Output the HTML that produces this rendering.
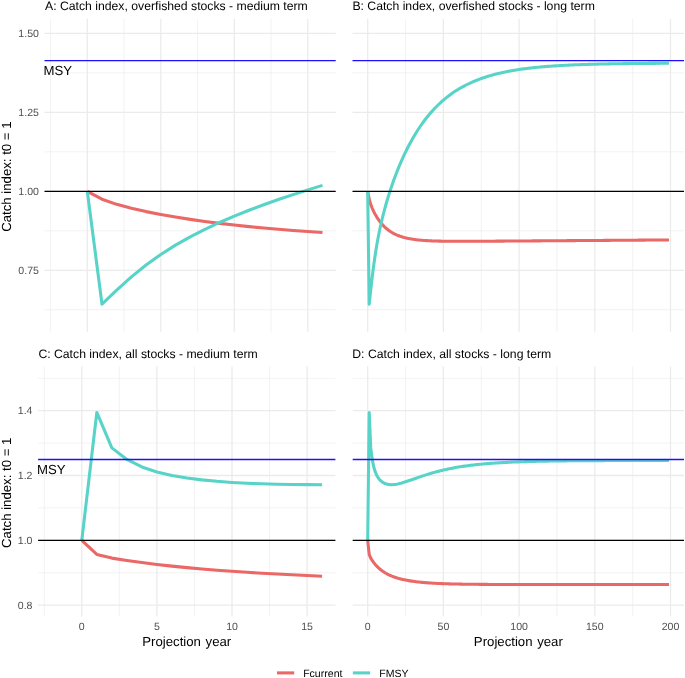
<!DOCTYPE html>
<html><head><meta charset="utf-8"><style>
html,body{margin:0;padding:0;background:#fff;}
body{width:685px;height:678px;overflow:hidden;}
svg{display:block;font-family:"Liberation Sans",sans-serif;will-change:transform;text-rendering:geometricPrecision;}
.ti{font-size:12.22px;fill:#000;}
.tk{font-size:10.56px;fill:#4D4D4D;}
.at{font-size:13.2px;fill:#000;}
.an{font-size:13.2px;fill:#000;}
.lg{font-size:10.56px;fill:#000;}
</style></head><body>
<svg width="685" height="678" viewBox="0 0 685 678">
<rect width="685" height="678" fill="#fff"/>
<line x1="50.55" y1="18.85" x2="50.55" y2="331.8" stroke="#EBEBEB" stroke-width="0.64"/>
<line x1="124.05" y1="18.85" x2="124.05" y2="331.8" stroke="#EBEBEB" stroke-width="0.64"/>
<line x1="197.55" y1="18.85" x2="197.55" y2="331.8" stroke="#EBEBEB" stroke-width="0.64"/>
<line x1="271.05" y1="18.85" x2="271.05" y2="331.8" stroke="#EBEBEB" stroke-width="0.64"/>
<line x1="44.5" y1="309.76" x2="335.7" y2="309.76" stroke="#EBEBEB" stroke-width="0.64"/>
<line x1="44.5" y1="230.79" x2="335.7" y2="230.79" stroke="#EBEBEB" stroke-width="0.64"/>
<line x1="44.5" y1="151.81" x2="335.7" y2="151.81" stroke="#EBEBEB" stroke-width="0.64"/>
<line x1="44.5" y1="72.84" x2="335.7" y2="72.84" stroke="#EBEBEB" stroke-width="0.64"/>
<line x1="87.3" y1="18.85" x2="87.3" y2="331.8" stroke="#EBEBEB" stroke-width="1.28"/>
<line x1="160.8" y1="18.85" x2="160.8" y2="331.8" stroke="#EBEBEB" stroke-width="1.28"/>
<line x1="234.3" y1="18.85" x2="234.3" y2="331.8" stroke="#EBEBEB" stroke-width="1.28"/>
<line x1="307.8" y1="18.85" x2="307.8" y2="331.8" stroke="#EBEBEB" stroke-width="1.28"/>
<line x1="44.5" y1="270.27" x2="335.7" y2="270.27" stroke="#EBEBEB" stroke-width="1.28"/>
<line x1="44.5" y1="191.3" x2="335.7" y2="191.3" stroke="#EBEBEB" stroke-width="1.28"/>
<line x1="44.5" y1="112.33" x2="335.7" y2="112.33" stroke="#EBEBEB" stroke-width="1.28"/>
<line x1="44.5" y1="33.35" x2="335.7" y2="33.35" stroke="#EBEBEB" stroke-width="1.28"/>
<line x1="405.55" y1="18.85" x2="405.55" y2="331.8" stroke="#EBEBEB" stroke-width="0.64"/>
<line x1="481.25" y1="18.85" x2="481.25" y2="331.8" stroke="#EBEBEB" stroke-width="0.64"/>
<line x1="556.95" y1="18.85" x2="556.95" y2="331.8" stroke="#EBEBEB" stroke-width="0.64"/>
<line x1="632.65" y1="18.85" x2="632.65" y2="331.8" stroke="#EBEBEB" stroke-width="0.64"/>
<line x1="352.5" y1="309.76" x2="684" y2="309.76" stroke="#EBEBEB" stroke-width="0.64"/>
<line x1="352.5" y1="230.79" x2="684" y2="230.79" stroke="#EBEBEB" stroke-width="0.64"/>
<line x1="352.5" y1="151.81" x2="684" y2="151.81" stroke="#EBEBEB" stroke-width="0.64"/>
<line x1="352.5" y1="72.84" x2="684" y2="72.84" stroke="#EBEBEB" stroke-width="0.64"/>
<line x1="367.7" y1="18.85" x2="367.7" y2="331.8" stroke="#EBEBEB" stroke-width="1.28"/>
<line x1="443.4" y1="18.85" x2="443.4" y2="331.8" stroke="#EBEBEB" stroke-width="1.28"/>
<line x1="519.1" y1="18.85" x2="519.1" y2="331.8" stroke="#EBEBEB" stroke-width="1.28"/>
<line x1="594.8" y1="18.85" x2="594.8" y2="331.8" stroke="#EBEBEB" stroke-width="1.28"/>
<line x1="670.5" y1="18.85" x2="670.5" y2="331.8" stroke="#EBEBEB" stroke-width="1.28"/>
<line x1="352.5" y1="270.27" x2="684" y2="270.27" stroke="#EBEBEB" stroke-width="1.28"/>
<line x1="352.5" y1="191.3" x2="684" y2="191.3" stroke="#EBEBEB" stroke-width="1.28"/>
<line x1="352.5" y1="112.33" x2="684" y2="112.33" stroke="#EBEBEB" stroke-width="1.28"/>
<line x1="352.5" y1="33.35" x2="684" y2="33.35" stroke="#EBEBEB" stroke-width="1.28"/>
<line x1="44.25" y1="366.5" x2="44.25" y2="616.4" stroke="#EBEBEB" stroke-width="0.64"/>
<line x1="119.35" y1="366.5" x2="119.35" y2="616.4" stroke="#EBEBEB" stroke-width="0.64"/>
<line x1="194.45" y1="366.5" x2="194.45" y2="616.4" stroke="#EBEBEB" stroke-width="0.64"/>
<line x1="269.55" y1="366.5" x2="269.55" y2="616.4" stroke="#EBEBEB" stroke-width="0.64"/>
<line x1="38.1" y1="572.7" x2="335.4" y2="572.7" stroke="#EBEBEB" stroke-width="0.64"/>
<line x1="38.1" y1="507.9" x2="335.4" y2="507.9" stroke="#EBEBEB" stroke-width="0.64"/>
<line x1="38.1" y1="443.1" x2="335.4" y2="443.1" stroke="#EBEBEB" stroke-width="0.64"/>
<line x1="38.1" y1="378.3" x2="335.4" y2="378.3" stroke="#EBEBEB" stroke-width="0.64"/>
<line x1="81.8" y1="366.5" x2="81.8" y2="616.4" stroke="#EBEBEB" stroke-width="1.28"/>
<line x1="156.9" y1="366.5" x2="156.9" y2="616.4" stroke="#EBEBEB" stroke-width="1.28"/>
<line x1="232" y1="366.5" x2="232" y2="616.4" stroke="#EBEBEB" stroke-width="1.28"/>
<line x1="307.1" y1="366.5" x2="307.1" y2="616.4" stroke="#EBEBEB" stroke-width="1.28"/>
<line x1="38.1" y1="605.1" x2="335.4" y2="605.1" stroke="#EBEBEB" stroke-width="1.28"/>
<line x1="38.1" y1="540.3" x2="335.4" y2="540.3" stroke="#EBEBEB" stroke-width="1.28"/>
<line x1="38.1" y1="475.5" x2="335.4" y2="475.5" stroke="#EBEBEB" stroke-width="1.28"/>
<line x1="38.1" y1="410.7" x2="335.4" y2="410.7" stroke="#EBEBEB" stroke-width="1.28"/>
<line x1="405.55" y1="366.5" x2="405.55" y2="616.4" stroke="#EBEBEB" stroke-width="0.64"/>
<line x1="481.25" y1="366.5" x2="481.25" y2="616.4" stroke="#EBEBEB" stroke-width="0.64"/>
<line x1="556.95" y1="366.5" x2="556.95" y2="616.4" stroke="#EBEBEB" stroke-width="0.64"/>
<line x1="632.65" y1="366.5" x2="632.65" y2="616.4" stroke="#EBEBEB" stroke-width="0.64"/>
<line x1="352.7" y1="572.7" x2="684" y2="572.7" stroke="#EBEBEB" stroke-width="0.64"/>
<line x1="352.7" y1="507.9" x2="684" y2="507.9" stroke="#EBEBEB" stroke-width="0.64"/>
<line x1="352.7" y1="443.1" x2="684" y2="443.1" stroke="#EBEBEB" stroke-width="0.64"/>
<line x1="352.7" y1="378.3" x2="684" y2="378.3" stroke="#EBEBEB" stroke-width="0.64"/>
<line x1="367.7" y1="366.5" x2="367.7" y2="616.4" stroke="#EBEBEB" stroke-width="1.28"/>
<line x1="443.4" y1="366.5" x2="443.4" y2="616.4" stroke="#EBEBEB" stroke-width="1.28"/>
<line x1="519.1" y1="366.5" x2="519.1" y2="616.4" stroke="#EBEBEB" stroke-width="1.28"/>
<line x1="594.8" y1="366.5" x2="594.8" y2="616.4" stroke="#EBEBEB" stroke-width="1.28"/>
<line x1="670.5" y1="366.5" x2="670.5" y2="616.4" stroke="#EBEBEB" stroke-width="1.28"/>
<line x1="352.7" y1="605.1" x2="684" y2="605.1" stroke="#EBEBEB" stroke-width="1.28"/>
<line x1="352.7" y1="540.3" x2="684" y2="540.3" stroke="#EBEBEB" stroke-width="1.28"/>
<line x1="352.7" y1="475.5" x2="684" y2="475.5" stroke="#EBEBEB" stroke-width="1.28"/>
<line x1="352.7" y1="410.7" x2="684" y2="410.7" stroke="#EBEBEB" stroke-width="1.28"/>
<path d="M87.30,191.30 L102.00,199.20 L116.70,204.34 L131.40,208.31 L146.10,211.62 L160.80,214.50 L175.50,217.07 L190.20,219.38 L204.90,221.47 L219.60,223.36 L234.30,225.07 L249.00,226.62 L263.70,228.03 L278.40,229.31 L293.10,230.47 L307.80,231.51 L322.50,232.47" fill="none" stroke="#EA6866" stroke-width="3.07" stroke-linejoin="round"/>
<path d="M87.30,191.30 L102.00,304.20 L116.70,290.18 L131.40,276.87 L146.10,264.95 L160.80,254.43 L175.50,245.12 L190.20,236.82 L204.90,229.32 L219.60,222.47 L234.30,216.15 L249.00,210.27 L263.70,204.76 L278.40,199.55 L293.10,194.60 L307.80,189.90 L322.50,185.40" fill="none" stroke="#58D3C7" stroke-width="3.07" stroke-linejoin="round"/>
<path d="M367.70,191.30 L369.21,199.20 L370.73,204.34 L372.24,208.31 L373.76,211.62 L375.27,214.50 L376.78,217.07 L378.30,219.38 L379.81,221.47 L381.33,223.36 L382.84,225.07 L384.35,226.62 L385.87,228.03 L387.38,229.31 L388.90,230.47 L390.41,231.51 L391.92,232.47 L393.44,233.33 L394.95,234.11 L396.47,234.82 L397.98,235.46 L399.49,236.04 L401.01,236.57 L402.52,237.04 L404.04,237.48 L405.55,237.87 L407.06,238.22 L408.58,238.54 L410.09,238.83 L411.61,239.09 L413.12,239.33 L414.63,239.54 L416.15,239.73 L417.66,239.91 L419.18,240.06 L420.69,240.21 L422.20,240.33 L423.72,240.45 L425.23,240.55 L426.75,240.64 L428.26,240.73 L429.77,240.80 L431.29,240.87 L432.80,240.92 L434.32,240.98 L435.83,241.02 L437.34,241.07 L438.86,241.10 L440.37,241.14 L441.89,241.16 L443.40,241.19 L444.91,241.21 L446.43,241.23 L447.94,241.24 L449.46,241.26 L450.97,241.27 L452.48,241.28 L454.00,241.28 L455.51,241.29 L457.03,241.29 L458.54,241.30 L460.05,241.30 L461.57,241.30 L463.08,241.30 L464.60,241.30 L466.11,241.29 L467.62,241.29 L469.14,241.29 L470.65,241.28 L472.17,241.28 L473.68,241.27 L475.19,241.26 L476.71,241.26 L478.22,241.25 L479.74,241.24 L481.25,241.24 L482.76,241.23 L484.28,241.22 L485.79,241.21 L487.31,241.20 L488.82,241.19 L490.33,241.19 L491.85,241.18 L493.36,241.17 L494.88,241.16 L496.39,241.15 L497.90,241.14 L499.42,241.13 L500.93,241.12 L502.45,241.11 L503.96,241.10 L505.47,241.09 L506.99,241.08 L508.50,241.07 L510.02,241.06 L511.53,241.05 L513.04,241.04 L514.56,241.03 L516.07,241.02 L517.59,241.01 L519.10,241.00 L520.61,240.98 L522.13,240.97 L523.64,240.96 L525.16,240.95 L526.67,240.94 L528.18,240.93 L529.70,240.92 L531.21,240.91 L532.73,240.90 L534.24,240.89 L535.75,240.88 L537.27,240.87 L538.78,240.86 L540.30,240.85 L541.81,240.84 L543.32,240.82 L544.84,240.81 L546.35,240.80 L547.87,240.79 L549.38,240.78 L550.89,240.77 L552.41,240.76 L553.92,240.75 L555.44,240.74 L556.95,240.73 L558.46,240.72 L559.98,240.71 L561.49,240.70 L563.01,240.69 L564.52,240.67 L566.03,240.66 L567.55,240.65 L569.06,240.64 L570.58,240.63 L572.09,240.62 L573.60,240.61 L575.12,240.60 L576.63,240.59 L578.15,240.58 L579.66,240.57 L581.17,240.56 L582.69,240.55 L584.20,240.53 L585.72,240.52 L587.23,240.51 L588.74,240.50 L590.26,240.49 L591.77,240.48 L593.29,240.47 L594.80,240.46 L596.31,240.45 L597.83,240.44 L599.34,240.43 L600.86,240.42 L602.37,240.41 L603.88,240.40 L605.40,240.38 L606.91,240.37 L608.43,240.36 L609.94,240.35 L611.45,240.34 L612.97,240.33 L614.48,240.32 L616.00,240.31 L617.51,240.30 L619.02,240.29 L620.54,240.28 L622.05,240.27 L623.57,240.26 L625.08,240.24 L626.59,240.23 L628.11,240.22 L629.62,240.21 L631.14,240.20 L632.65,240.19 L634.16,240.18 L635.68,240.17 L637.19,240.16 L638.71,240.15 L640.22,240.14 L641.73,240.13 L643.25,240.12 L644.76,240.10 L646.28,240.09 L647.79,240.08 L649.30,240.07 L650.82,240.06 L652.33,240.05 L653.85,240.04 L655.36,240.03 L656.87,240.02 L658.39,240.01 L659.90,240.00 L661.42,239.99 L662.93,239.98 L664.44,239.96 L665.96,239.95 L667.47,239.94 L668.99,239.93" fill="none" stroke="#EA6866" stroke-width="3.07" stroke-linejoin="round"/>
<path d="M367.70,191.30 L369.21,304.20 L370.73,290.18 L372.24,276.87 L373.76,264.95 L375.27,254.43 L376.78,245.12 L378.30,236.82 L379.81,229.32 L381.33,222.47 L382.84,216.15 L384.35,210.27 L385.87,204.76 L387.38,199.55 L388.90,194.60 L390.41,189.90 L391.92,185.40 L393.44,181.09 L394.95,176.96 L396.47,172.99 L397.98,169.17 L399.49,165.49 L401.01,161.94 L402.52,158.52 L404.04,155.23 L405.55,152.05 L407.06,148.98 L408.58,146.02 L410.09,143.16 L411.61,140.41 L413.12,137.74 L414.63,135.17 L416.15,132.69 L417.66,130.30 L419.18,127.98 L420.69,125.75 L422.20,123.59 L423.72,121.51 L425.23,119.50 L426.75,117.56 L428.26,115.68 L429.77,113.87 L431.29,112.13 L432.80,110.44 L434.32,108.81 L435.83,107.24 L437.34,105.72 L438.86,104.25 L440.37,102.83 L441.89,101.46 L443.40,100.14 L444.91,98.87 L446.43,97.64 L447.94,96.45 L449.46,95.30 L450.97,94.19 L452.48,93.12 L454.00,92.09 L455.51,91.09 L457.03,90.13 L458.54,89.19 L460.05,88.30 L461.57,87.43 L463.08,86.59 L464.60,85.78 L466.11,85.00 L467.62,84.25 L469.14,83.52 L470.65,82.81 L472.17,82.14 L473.68,81.48 L475.19,80.85 L476.71,80.24 L478.22,79.65 L479.74,79.08 L481.25,78.52 L482.76,77.99 L484.28,77.48 L485.79,76.98 L487.31,76.51 L488.82,76.04 L490.33,75.60 L491.85,75.17 L493.36,74.75 L494.88,74.35 L496.39,73.96 L497.90,73.59 L499.42,73.23 L500.93,72.88 L502.45,72.54 L503.96,72.21 L505.47,71.90 L506.99,71.60 L508.50,71.30 L510.02,71.02 L511.53,70.75 L513.04,70.48 L514.56,70.23 L516.07,69.98 L517.59,69.74 L519.10,69.52 L520.61,69.29 L522.13,69.08 L523.64,68.87 L525.16,68.67 L526.67,68.48 L528.18,68.30 L529.70,68.12 L531.21,67.94 L532.73,67.78 L534.24,67.61 L535.75,67.46 L537.27,67.31 L538.78,67.16 L540.30,67.02 L541.81,66.89 L543.32,66.75 L544.84,66.63 L546.35,66.51 L547.87,66.39 L549.38,66.27 L550.89,66.16 L552.41,66.06 L553.92,65.96 L555.44,65.86 L556.95,65.76 L558.46,65.67 L559.98,65.58 L561.49,65.49 L563.01,65.41 L564.52,65.33 L566.03,65.25 L567.55,65.18 L569.06,65.11 L570.58,65.04 L572.09,64.97 L573.60,64.90 L575.12,64.84 L576.63,64.78 L578.15,64.72 L579.66,64.66 L581.17,64.61 L582.69,64.56 L584.20,64.51 L585.72,64.46 L587.23,64.41 L588.74,64.36 L590.26,64.32 L591.77,64.28 L593.29,64.24 L594.80,64.20 L596.31,64.16 L597.83,64.12 L599.34,64.08 L600.86,64.05 L602.37,64.02 L603.88,63.98 L605.40,63.95 L606.91,63.92 L608.43,63.89 L609.94,63.87 L611.45,63.84 L612.97,63.81 L614.48,63.79 L616.00,63.76 L617.51,63.74 L619.02,63.72 L620.54,63.69 L622.05,63.67 L623.57,63.65 L625.08,63.63 L626.59,63.61 L628.11,63.60 L629.62,63.58 L631.14,63.56 L632.65,63.54 L634.16,63.53 L635.68,63.51 L637.19,63.50 L638.71,63.48 L640.22,63.47 L641.73,63.46 L643.25,63.44 L644.76,63.43 L646.28,63.42 L647.79,63.41 L649.30,63.40 L650.82,63.38 L652.33,63.37 L653.85,63.36 L655.36,63.35 L656.87,63.34 L658.39,63.34 L659.90,63.33 L661.42,63.32 L662.93,63.31 L664.44,63.30 L665.96,63.29 L667.47,63.29 L668.99,63.28" fill="none" stroke="#58D3C7" stroke-width="3.07" stroke-linejoin="round"/>
<path d="M81.80,540.30 L96.82,554.39 L111.84,558.11 L126.86,560.48 L141.88,562.59 L156.90,564.46 L171.92,566.14 L186.94,567.65 L201.96,569.00 L216.98,570.22 L232.00,571.33 L247.02,572.33 L262.04,573.24 L277.06,574.07 L292.08,574.83 L307.10,575.52 L322.12,576.16" fill="none" stroke="#EA6866" stroke-width="3.07" stroke-linejoin="round"/>
<path d="M81.80,540.30 L96.82,412.42 L111.84,447.90 L126.86,459.49 L141.88,466.94 L156.90,471.94 L171.92,475.44 L186.94,477.99 L201.96,479.89 L216.98,481.33 L232.00,482.42 L247.02,483.24 L262.04,483.84 L277.06,484.26 L292.08,484.52 L307.10,484.65 L322.12,484.67" fill="none" stroke="#58D3C7" stroke-width="3.07" stroke-linejoin="round"/>
<path d="M367.70,540.30 L369.21,554.39 L370.73,558.11 L372.24,560.48 L373.76,562.59 L375.27,564.46 L376.78,566.14 L378.30,567.65 L379.81,569.00 L381.33,570.22 L382.84,571.33 L384.35,572.33 L385.87,573.24 L387.38,574.07 L388.90,574.83 L390.41,575.52 L391.92,576.16 L393.44,576.74 L394.95,577.28 L396.47,577.78 L397.98,578.24 L399.49,578.66 L401.01,579.05 L402.52,579.42 L404.04,579.76 L405.55,580.07 L407.06,580.36 L408.58,580.63 L410.09,580.88 L411.61,581.12 L413.12,581.34 L414.63,581.54 L416.15,581.73 L417.66,581.91 L419.18,582.08 L420.69,582.24 L422.20,582.38 L423.72,582.52 L425.23,582.64 L426.75,582.76 L428.26,582.88 L429.77,582.98 L431.29,583.08 L432.80,583.17 L434.32,583.25 L435.83,583.33 L437.34,583.41 L438.86,583.48 L440.37,583.55 L441.89,583.61 L443.40,583.67 L444.91,583.72 L446.43,583.77 L447.94,583.82 L449.46,583.86 L450.97,583.91 L452.48,583.94 L454.00,583.98 L455.51,584.02 L457.03,584.05 L458.54,584.08 L460.05,584.11 L461.57,584.13 L463.08,584.16 L464.60,584.18 L466.11,584.20 L467.62,584.22 L469.14,584.24 L470.65,584.26 L472.17,584.28 L473.68,584.30 L475.19,584.31 L476.71,584.32 L478.22,584.34 L479.74,584.35 L481.25,584.36 L482.76,584.37 L484.28,584.38 L485.79,584.39 L487.31,584.40 L488.82,584.41 L490.33,584.42 L491.85,584.42 L493.36,584.43 L494.88,584.44 L496.39,584.44 L497.90,584.45 L499.42,584.45 L500.93,584.46 L502.45,584.46 L503.96,584.47 L505.47,584.47 L506.99,584.48 L508.50,584.48 L510.02,584.48 L511.53,584.49 L513.04,584.49 L514.56,584.49 L516.07,584.49 L517.59,584.50 L519.10,584.50 L520.61,584.50 L522.13,584.50 L523.64,584.51 L525.16,584.51 L526.67,584.51 L528.18,584.51 L529.70,584.51 L531.21,584.51 L532.73,584.51 L534.24,584.52 L535.75,584.52 L537.27,584.52 L538.78,584.52 L540.30,584.52 L541.81,584.52 L543.32,584.52 L544.84,584.52 L546.35,584.52 L547.87,584.52 L549.38,584.52 L550.89,584.53 L552.41,584.53 L553.92,584.53 L555.44,584.53 L556.95,584.53 L558.46,584.53 L559.98,584.53 L561.49,584.53 L563.01,584.53 L564.52,584.53 L566.03,584.53 L567.55,584.53 L569.06,584.53 L570.58,584.53 L572.09,584.53 L573.60,584.53 L575.12,584.53 L576.63,584.53 L578.15,584.53 L579.66,584.53 L581.17,584.53 L582.69,584.53 L584.20,584.53 L585.72,584.53 L587.23,584.53 L588.74,584.53 L590.26,584.53 L591.77,584.53 L593.29,584.53 L594.80,584.53 L596.31,584.53 L597.83,584.53 L599.34,584.53 L600.86,584.53 L602.37,584.53 L603.88,584.53 L605.40,584.53 L606.91,584.53 L608.43,584.53 L609.94,584.53 L611.45,584.53 L612.97,584.53 L614.48,584.53 L616.00,584.53 L617.51,584.53 L619.02,584.53 L620.54,584.53 L622.05,584.53 L623.57,584.53 L625.08,584.53 L626.59,584.53 L628.11,584.53 L629.62,584.53 L631.14,584.53 L632.65,584.53 L634.16,584.53 L635.68,584.53 L637.19,584.53 L638.71,584.53 L640.22,584.53 L641.73,584.53 L643.25,584.53 L644.76,584.53 L646.28,584.53 L647.79,584.53 L649.30,584.53 L650.82,584.53 L652.33,584.53 L653.85,584.53 L655.36,584.53 L656.87,584.53 L658.39,584.53 L659.90,584.53 L661.42,584.53 L662.93,584.53 L664.44,584.53 L665.96,584.53 L667.47,584.53 L668.99,584.53" fill="none" stroke="#EA6866" stroke-width="3.07" stroke-linejoin="round"/>
<path d="M367.70,540.30 L369.21,412.42 L370.73,447.90 L372.24,459.49 L373.76,466.94 L375.27,471.94 L376.78,475.44 L378.30,477.99 L379.81,479.89 L381.33,481.33 L382.84,482.42 L384.35,483.24 L385.87,483.84 L387.38,484.26 L388.90,484.52 L390.41,484.65 L391.92,484.67 L393.44,484.59 L394.95,484.43 L396.47,484.19 L397.98,483.90 L399.49,483.55 L401.01,483.17 L402.52,482.74 L404.04,482.29 L405.55,481.81 L407.06,481.32 L408.58,480.81 L410.09,480.29 L411.61,479.77 L413.12,479.24 L414.63,478.71 L416.15,478.18 L417.66,477.66 L419.18,477.14 L420.69,476.62 L422.20,476.11 L423.72,475.61 L425.23,475.12 L426.75,474.64 L428.26,474.17 L429.77,473.71 L431.29,473.26 L432.80,472.82 L434.32,472.39 L435.83,471.98 L437.34,471.57 L438.86,471.18 L440.37,470.80 L441.89,470.43 L443.40,470.07 L444.91,469.72 L446.43,469.39 L447.94,469.06 L449.46,468.75 L450.97,468.44 L452.48,468.15 L454.00,467.87 L455.51,467.59 L457.03,467.33 L458.54,467.07 L460.05,466.82 L461.57,466.59 L463.08,466.36 L464.60,466.14 L466.11,465.92 L467.62,465.72 L469.14,465.52 L470.65,465.33 L472.17,465.14 L473.68,464.96 L475.19,464.79 L476.71,464.63 L478.22,464.47 L479.74,464.32 L481.25,464.17 L482.76,464.03 L484.28,463.89 L485.79,463.76 L487.31,463.63 L488.82,463.51 L490.33,463.39 L491.85,463.28 L493.36,463.17 L494.88,463.07 L496.39,462.97 L497.90,462.87 L499.42,462.78 L500.93,462.69 L502.45,462.60 L503.96,462.52 L505.47,462.44 L506.99,462.36 L508.50,462.29 L510.02,462.22 L511.53,462.15 L513.04,462.09 L514.56,462.02 L516.07,461.96 L517.59,461.90 L519.10,461.85 L520.61,461.79 L522.13,461.74 L523.64,461.69 L525.16,461.64 L526.67,461.60 L528.18,461.55 L529.70,461.51 L531.21,461.47 L532.73,461.43 L534.24,461.39 L535.75,461.35 L537.27,461.32 L538.78,461.29 L540.30,461.25 L541.81,461.22 L543.32,461.19 L544.84,461.16 L546.35,461.13 L547.87,461.11 L549.38,461.08 L550.89,461.06 L552.41,461.03 L553.92,461.01 L555.44,460.99 L556.95,460.97 L558.46,460.95 L559.98,460.93 L561.49,460.91 L563.01,460.89 L564.52,460.87 L566.03,460.86 L567.55,460.84 L569.06,460.83 L570.58,460.81 L572.09,460.80 L573.60,460.78 L575.12,460.77 L576.63,460.76 L578.15,460.74 L579.66,460.73 L581.17,460.72 L582.69,460.71 L584.20,460.70 L585.72,460.69 L587.23,460.68 L588.74,460.67 L590.26,460.66 L591.77,460.65 L593.29,460.64 L594.80,460.64 L596.31,460.63 L597.83,460.62 L599.34,460.61 L600.86,460.61 L602.37,460.60 L603.88,460.60 L605.40,460.59 L606.91,460.58 L608.43,460.58 L609.94,460.57 L611.45,460.57 L612.97,460.56 L614.48,460.56 L616.00,460.55 L617.51,460.55 L619.02,460.54 L620.54,460.54 L622.05,460.54 L623.57,460.53 L625.08,460.53 L626.59,460.53 L628.11,460.52 L629.62,460.52 L631.14,460.52 L632.65,460.51 L634.16,460.51 L635.68,460.51 L637.19,460.50 L638.71,460.50 L640.22,460.50 L641.73,460.50 L643.25,460.49 L644.76,460.49 L646.28,460.49 L647.79,460.49 L649.30,460.49 L650.82,460.48 L652.33,460.48 L653.85,460.48 L655.36,460.48 L656.87,460.48 L658.39,460.48 L659.90,460.47 L661.42,460.47 L662.93,460.47 L664.44,460.47 L665.96,460.47 L667.47,460.47 L668.99,460.47" fill="none" stroke="#58D3C7" stroke-width="3.07" stroke-linejoin="round"/>
<line x1="44.5" y1="191.3" x2="335.7" y2="191.3" stroke="#000000" stroke-width="1.28"/>
<line x1="44.5" y1="60.7" x2="335.7" y2="60.7" stroke="#1C10FF" stroke-width="1.28"/>
<line x1="352.5" y1="191.3" x2="684" y2="191.3" stroke="#000000" stroke-width="1.28"/>
<line x1="352.5" y1="60.7" x2="684" y2="60.7" stroke="#1C10FF" stroke-width="1.28"/>
<line x1="38.1" y1="540.3" x2="335.4" y2="540.3" stroke="#000000" stroke-width="1.28"/>
<line x1="38.1" y1="459.5" x2="335.4" y2="459.5" stroke="#1C10FF" stroke-width="1.28"/>
<line x1="352.7" y1="540.3" x2="684" y2="540.3" stroke="#000000" stroke-width="1.28"/>
<line x1="352.7" y1="459.5" x2="684" y2="459.5" stroke="#1C10FF" stroke-width="1.28"/>
<text x="43.44" y="74.6" class="an">MSY</text>
<text x="37.04" y="473.6" class="an">MSY</text>
<text x="45.0" y="9.6" class="ti">A: Catch index, overfished stocks - medium term</text>
<text x="352.4" y="9.6" class="ti">B: Catch index, overfished stocks - long term</text>
<text x="38.4" y="357.8" class="ti">C: Catch index, all stocks - medium term</text>
<text x="352.3" y="357.8" class="ti">D: Catch index, all stocks - long term</text>
<text x="38.9" y="274.02" class="tk" text-anchor="end">0.75</text>
<text x="38.9" y="195.05" class="tk" text-anchor="end">1.00</text>
<text x="38.9" y="116.07" class="tk" text-anchor="end">1.25</text>
<text x="38.9" y="37.1" class="tk" text-anchor="end">1.50</text>
<text x="32.5" y="608.85" class="tk" text-anchor="end">0.8</text>
<text x="32.5" y="544.05" class="tk" text-anchor="end">1.0</text>
<text x="32.5" y="479.25" class="tk" text-anchor="end">1.2</text>
<text x="32.5" y="414.45" class="tk" text-anchor="end">1.4</text>
<text x="81.8" y="630.1" class="tk" text-anchor="middle">0</text>
<text x="156.9" y="630.1" class="tk" text-anchor="middle">5</text>
<text x="232" y="630.1" class="tk" text-anchor="middle">10</text>
<text x="307.1" y="630.1" class="tk" text-anchor="middle">15</text>
<text x="367.7" y="630.1" class="tk" text-anchor="middle">0</text>
<text x="443.4" y="630.1" class="tk" text-anchor="middle">50</text>
<text x="519.1" y="630.1" class="tk" text-anchor="middle">100</text>
<text x="594.8" y="630.1" class="tk" text-anchor="middle">150</text>
<text x="670.5" y="630.1" class="tk" text-anchor="middle">200</text>
<text x="186.75" y="645.7" class="at" text-anchor="middle" word-spacing="1">Projection year</text>
<text x="518.35" y="645.7" class="at" text-anchor="middle" word-spacing="1">Projection year</text>
<text transform="translate(10.9,176.6) rotate(-90)" class="at" text-anchor="middle">Catch index: t0 = 1</text>
<text transform="translate(10.9,492.8) rotate(-90)" class="at" text-anchor="middle">Catch index: t0 = 1</text>
<line x1="277" y1="672.9" x2="294.2" y2="672.9" stroke="#EA6866" stroke-width="3.07"/>
<line x1="352.85" y1="672.9" x2="370.1" y2="672.9" stroke="#58D3C7" stroke-width="3.07"/>
<text x="303.16" y="676.7" class="lg">Fcurrent</text>
<text x="379.26" y="676.7" class="lg">FMSY</text>
</svg>
</body></html>
